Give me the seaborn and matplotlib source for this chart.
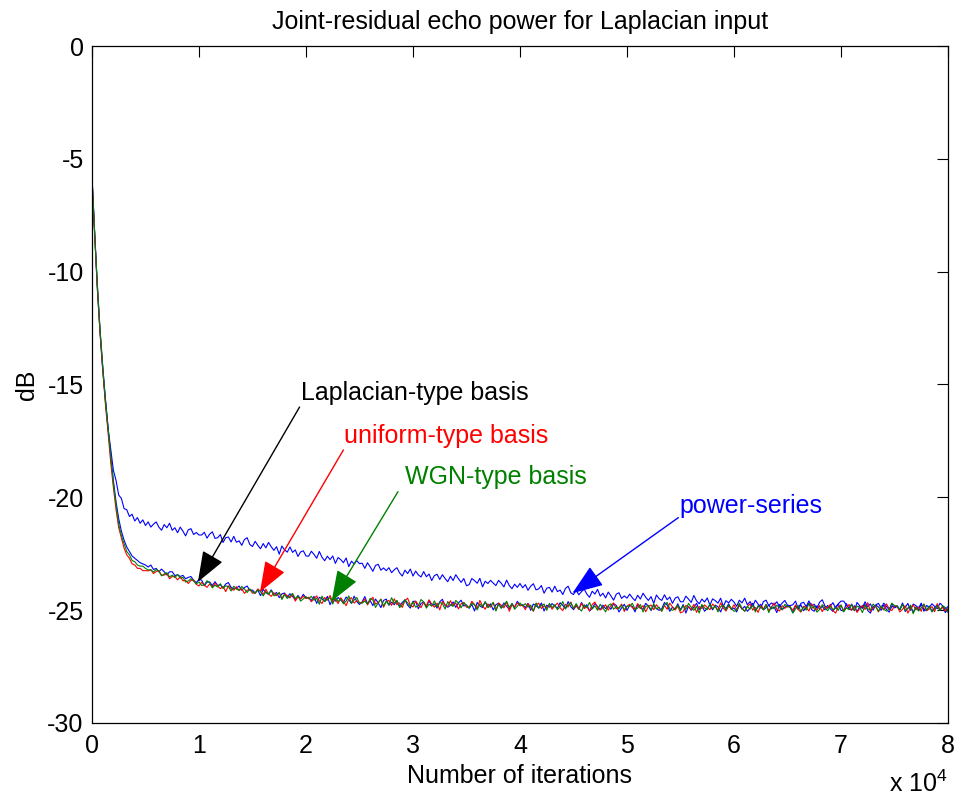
import numpy as np
import pandas as pd
import matplotlib
matplotlib.use("Agg")
import matplotlib.pyplot as plt
import seaborn as sns

# ---------------- data (dB values every 250 iterations, 0 .. 80000) ----------------
step = 250
power_series = [
    -5.80, -8.25, -10.75, -12.65, -14.35, -15.65, -16.95, -17.85, -18.80, -19.25, -19.90, -20.05, -20.50, -20.55, -20.85, -20.75, -21.05, -20.90, -21.15, -21.00, -21.25,
    -21.09, -21.32, -21.19, -21.09, -21.32, -21.46, -21.21, -21.35, -21.15, -21.46, -21.35, -21.57, -21.32, -21.50, -21.71, -21.44, -21.39, -21.65, -21.56, -21.67,
    -21.67, -21.55, -21.81, -21.63, -21.53, -21.82, -21.79, -21.65, -22.00, -21.79, -21.76, -21.98, -21.73, -21.99, -21.93, -22.13, -21.87, -21.79, -22.09, -22.18,
    -21.95, -22.13, -22.28, -22.05, -22.24, -22.00, -22.19, -22.35, -22.19, -22.52, -22.16, -22.33, -22.43, -22.20, -22.44, -22.33, -22.62, -22.42, -22.37, -22.60,
    -22.61, -22.39, -22.53, -22.70, -22.40, -22.66, -22.81, -22.61, -22.76, -22.60, -22.93, -22.67, -22.76, -22.90, -22.69, -23.07, -22.83, -22.95, -22.81, -22.94,
    -22.92, -23.15, -22.90, -23.08, -23.28, -23.02, -22.97, -23.23, -23.13, -23.25, -23.12, -23.34, -23.21, -23.12, -23.35, -23.49, -23.23, -23.38, -23.18, -23.49,
    -23.27, -23.44, -23.53, -23.29, -23.52, -23.40, -23.69, -23.47, -23.41, -23.64, -23.43, -23.60, -23.74, -23.50, -23.69, -23.43, -23.61, -23.77, -23.60, -23.92,
    -23.87, -23.60, -23.69, -23.81, -23.59, -23.97, -23.72, -23.82, -23.68, -23.80, -23.91, -23.68, -23.81, -23.97, -23.67, -23.91, -24.05, -23.85, -23.99, -23.82,
    -24.01, -23.87, -24.12, -23.94, -23.83, -24.10, -24.06, -23.91, -24.25, -24.03, -23.99, -24.20, -23.94, -24.18, -24.11, -24.31, -24.04, -23.94, -24.23, -24.31,
    -24.11, -24.32, -24.18, -24.07, -24.29, -24.43, -24.16, -24.29, -24.08, -24.38, -24.25, -24.46, -24.20, -24.37, -24.56, -24.29, -24.23, -24.48, -24.37, -24.47,
    -24.29, -24.45, -24.58, -24.34, -24.51, -24.25, -24.43, -24.57, -24.40, -24.70, -24.33, -24.49, -24.57, -24.32, -24.54, -24.42, -24.70, -24.47, -24.41, -24.63,
    -24.63, -24.38, -24.51, -24.66, -24.35, -24.59, -24.72, -24.51, -24.64, -24.46, -24.78, -24.50, -24.58, -24.69, -24.47, -24.84, -24.58, -24.68, -24.52, -24.64,
    -24.83, -24.56, -24.68, -24.47, -24.76, -24.62, -24.83, -24.56, -24.73, -24.91, -24.62, -24.56, -24.80, -24.68, -24.78, -24.63, -24.83, -24.69, -24.57, -24.78,
    -24.80, -24.76, -24.60, -24.93, -24.70, -24.65, -24.85, -24.59, -24.82, -24.74, -24.92, -24.65, -24.54, -24.82, -24.90, -24.82, -24.67, -24.92, -24.72, -24.60,
    -24.60, -24.77, -24.91, -24.73, -25.03, -24.66, -24.81, -24.89, -24.63, -24.85, -24.72, -25.00, -24.77, -24.70, -24.91, -24.69, -24.84, -24.97, -24.72, -24.90,
    -24.84, -24.97, -24.75, -24.88, -24.70, -25.01, -24.73, -24.80, -24.91, -24.69, -25.05, -24.79, -24.88, -24.72, -24.83, -24.94, -24.69, -24.81, -24.96, -24.84,
]
laplacian_basis = [
    -5.80, -8.25, -10.55, -12.55, -14.15, -15.60, -16.90, -18.15, -19.25, -20.20, -20.95, -21.50, -21.90, -22.20, -22.40, -22.60, -22.70, -22.80, -22.90, -22.95, -23.00,
    -23.09, -23.00, -23.20, -23.15, -23.30, -23.18, -23.30, -23.44, -23.30, -23.30, -23.47, -23.43, -23.51, -23.46, -23.61, -23.55, -23.51, -23.68, -23.78, -23.64,
    -23.67, -23.92, -23.76, -23.75, -23.91, -23.74, -23.91, -23.87, -24.02, -23.84, -23.78, -23.99, -24.06, -24.03, -23.93, -24.12, -24.00, -23.93, -24.13, -24.11,
    -24.24, -24.11, -24.36, -24.08, -24.22, -24.30, -24.10, -24.30, -24.22, -24.45, -24.28, -24.24, -24.43, -24.27, -24.40, -24.53, -24.35, -24.50, -24.30, -24.45,
    -24.44, -24.57, -24.39, -24.70, -24.43, -24.50, -24.62, -24.39, -24.76, -24.50, -24.60, -24.44, -24.56, -24.66, -24.42, -24.54, -24.70, -24.38, -24.62, -24.75,
    -24.63, -24.40, -24.72, -24.58, -24.80, -24.51, -24.68, -24.89, -24.57, -24.51, -24.78, -24.65, -24.76, -24.59, -24.82, -24.66, -24.54, -24.78, -24.91, -24.61,
    -24.61, -24.94, -24.70, -24.65, -24.85, -24.58, -24.81, -24.73, -24.91, -24.63, -24.52, -24.80, -24.87, -24.79, -24.64, -24.88, -24.68, -24.56, -24.82, -24.77,
    -24.92, -24.74, -25.04, -24.66, -24.81, -24.89, -24.63, -24.85, -24.72, -24.99, -24.76, -24.69, -24.90, -24.68, -24.83, -24.96, -24.71, -24.88, -24.61, -24.78,
    -24.76, -24.89, -24.70, -25.01, -24.73, -24.80, -24.91, -24.68, -25.04, -24.78, -24.87, -24.71, -24.82, -24.92, -24.67, -24.79, -24.94, -24.62, -24.85, -24.98,
    -24.81, -24.95, -24.66, -24.88, -24.76, -25.04, -24.92, -24.71, -24.83, -24.98, -24.78, -24.93, -24.84, -24.96, -24.72, -24.79, -25.08, -24.90, -24.74, -25.01,
    -24.79, -24.84, -25.08, -24.75, -24.91, -24.96, -24.70, -24.82, -25.02, -24.78, -24.93, -25.01, -24.94, -24.66, -24.77, -25.05, -24.87, -24.95, -24.72, -24.99,
    -24.75, -25.13, -24.83, -25.01, -24.87, -24.70, -24.97, -24.80, -25.05, -24.92, -24.77, -24.99, -24.78, -24.85, -25.08, -24.81, -24.94, -24.72, -24.98, -24.90,
    -25.08, -24.77, -24.96, -24.83, -25.05, -24.92, -24.69, -25.01, -24.86, -24.74, -24.99, -24.89, -24.78, -24.94, -24.85, -25.11, -24.75, -24.98, -24.87, -24.80,
    -24.89, -25.11, -24.82, -24.96, -24.76, -25.03, -24.87, -24.69, -24.98, -25.05, -24.81, -24.93, -24.84, -24.99, -24.79, -24.94, -25.06, -24.85, -24.73, -25.01,
    -25.04, -24.71, -24.95, -25.00, -24.80, -25.07, -24.84, -24.92, -24.74, -25.02, -25.13, -24.85, -24.78, -24.86, -25.01, -24.77, -24.97, -25.09, -24.83, -24.88,
    -24.80, -24.98, -24.68, -25.06, -24.91, -24.83, -25.09, -24.87, -25.00, -24.73, -24.96, -25.03, -24.82, -25.04, -24.89, -24.76, -25.01, -24.84, -25.11, -24.94,
]
uniform_basis = [
    -5.80, -8.35, -10.70, -12.70, -14.30, -15.85, -17.10, -18.45, -19.55, -20.55, -21.35, -21.80, -22.25, -22.55, -22.70, -22.95, -23.00, -23.15, -23.15, -23.25, -23.25,
    -23.26, -23.21, -23.38, -23.29, -23.25, -23.45, -23.45, -23.38, -23.61, -23.51, -23.51, -23.66, -23.52, -23.70, -23.68, -23.82, -23.68, -23.66, -23.86, -23.93,
    -23.77, -23.89, -23.99, -23.84, -23.98, -23.81, -23.94, -24.05, -23.95, -24.18, -23.92, -24.05, -24.12, -23.96, -24.13, -24.05, -24.26, -24.12, -24.08, -24.25,
    -24.24, -24.06, -24.17, -24.31, -24.07, -24.28, -24.39, -24.23, -24.36, -24.23, -24.48, -24.28, -24.36, -24.46, -24.29, -24.60, -24.41, -24.50, -24.38, -24.49,
    -24.43, -24.63, -24.49, -24.37, -24.59, -24.71, -24.44, -24.56, -24.35, -24.64, -24.51, -24.71, -24.45, -24.61, -24.80, -24.51, -24.45, -24.69, -24.58, -24.67,
    -24.67, -24.51, -24.77, -24.56, -24.43, -24.73, -24.67, -24.51, -24.87, -24.62, -24.57, -24.79, -24.50, -24.76, -24.68, -24.88, -24.58, -24.47, -24.78, -24.86,
    -24.60, -24.76, -24.89, -24.64, -24.82, -24.54, -24.73, -24.87, -24.69, -24.99, -24.61, -24.76, -24.84, -24.58, -24.81, -24.68, -24.95, -24.72, -24.66, -24.87,
    -24.88, -24.61, -24.75, -24.92, -24.57, -24.81, -24.96, -24.72, -24.87, -24.66, -25.00, -24.69, -24.78, -24.90, -24.64, -25.05, -24.76, -24.85, -24.68, -24.81,
    -24.78, -24.98, -24.71, -24.87, -25.05, -24.76, -24.69, -24.93, -24.81, -24.90, -24.75, -24.96, -24.81, -24.69, -24.90, -25.02, -24.74, -24.86, -24.64, -24.94,
    -24.77, -24.97, -24.70, -24.93, -24.85, -25.03, -24.75, -24.64, -24.92, -24.99, -24.91, -24.76, -25.00, -24.80, -24.68, -24.94, -24.89, -24.73, -25.06, -24.82,
    -24.74, -24.89, -24.97, -24.71, -24.93, -24.80, -25.07, -24.84, -24.77, -24.98, -24.76, -24.91, -25.04, -24.79, -24.96, -24.69, -24.86, -25.00, -24.82, -25.12,
    -25.07, -24.79, -24.86, -24.97, -24.74, -25.10, -24.84, -24.93, -24.77, -24.88, -24.98, -24.73, -24.85, -25.00, -24.68, -24.91, -25.04, -24.82, -24.95, -24.76,
    -24.98, -24.78, -24.93, -25.05, -24.84, -24.72, -25.00, -24.88, -25.10, -24.81, -24.95, -24.75, -25.02, -24.86, -24.68, -24.97, -25.04, -24.80, -24.92, -24.83,
    -24.86, -25.01, -24.77, -24.97, -25.09, -24.83, -24.88, -25.04, -24.71, -24.95, -25.00, -24.80, -25.07, -24.84, -24.92, -24.74, -25.02, -25.13, -24.85, -24.78,
    -25.03, -24.88, -24.75, -25.00, -24.83, -25.10, -24.93, -24.79, -24.97, -24.67, -25.05, -24.90, -24.82, -25.08, -24.86, -24.99, -24.72, -24.95, -25.02, -24.81,
    -24.83, -25.08, -24.96, -24.81, -25.13, -24.90, -24.77, -24.99, -24.86, -25.05, -24.74, -25.02, -24.95, -24.84, -25.07, -24.71, -24.97, -24.88, -25.04, -24.93,
]
wgn_basis = [
    -5.80, -8.30, -10.60, -12.55, -14.20, -15.70, -16.95, -18.25, -19.40, -20.35, -21.20, -21.70, -22.05, -22.40, -22.55, -22.80, -22.85, -23.00, -23.05, -23.05, -23.15,
    -23.22, -23.21, -23.31, -23.20, -23.27, -23.48, -23.40, -23.34, -23.53, -23.45, -23.56, -23.42, -23.58, -23.55, -23.75, -23.71, -23.61, -23.72, -23.84, -23.75,
    -23.91, -23.88, -23.70, -23.79, -24.01, -23.90, -23.97, -23.83, -24.04, -23.92, -23.96, -24.15, -23.94, -24.07, -24.12, -23.95, -24.06, -24.22, -24.06, -24.19,
    -24.25, -24.10, -24.17, -24.37, -24.18, -24.30, -24.13, -24.36, -24.32, -24.22, -24.53, -24.31, -24.48, -24.38, -24.26, -24.49, -24.38, -24.60, -24.50, -24.40,
    -24.50, -24.39, -24.56, -24.47, -24.74, -24.38, -24.62, -24.51, -24.45, -24.73, -24.43, -24.62, -24.50, -24.72, -24.60, -24.37, -24.70, -24.55, -24.44, -24.69,
    -24.69, -24.60, -24.73, -24.48, -24.55, -24.88, -24.68, -24.52, -24.82, -24.60, -24.77, -24.45, -24.70, -24.57, -24.89, -24.76, -24.54, -24.68, -24.84, -24.63,
    -24.87, -24.81, -24.53, -24.64, -24.91, -24.74, -24.82, -24.59, -24.86, -24.66, -24.71, -24.95, -24.62, -24.78, -24.83, -24.57, -24.69, -24.90, -24.66, -24.80,
    -24.90, -24.69, -24.76, -24.99, -24.72, -24.85, -24.63, -24.89, -24.81, -24.66, -25.04, -24.74, -24.92, -24.78, -24.61, -24.88, -24.71, -24.96, -24.83, -24.68,
    -24.82, -24.71, -24.87, -24.78, -25.04, -24.68, -24.91, -24.80, -24.73, -25.01, -24.70, -24.89, -24.76, -24.98, -24.85, -24.62, -24.94, -24.79, -24.67, -24.92,
    -24.71, -24.92, -25.04, -24.76, -24.88, -24.66, -24.95, -24.81, -25.01, -24.74, -24.90, -25.08, -24.79, -24.72, -24.96, -24.84, -24.93, -24.78, -24.98, -24.83,
    -24.82, -24.70, -24.96, -24.91, -24.75, -25.08, -24.84, -24.79, -24.99, -24.72, -24.95, -24.87, -25.05, -24.77, -24.66, -24.94, -25.01, -24.93, -24.78, -25.02,
    -24.80, -24.97, -24.70, -24.87, -25.01, -24.83, -25.13, -24.75, -24.90, -24.98, -24.72, -24.94, -24.81, -25.08, -24.85, -24.78, -24.99, -24.77, -24.92, -25.05,
    -25.01, -24.69, -24.92, -25.05, -24.83, -24.96, -24.77, -25.08, -24.80, -24.87, -24.98, -24.75, -25.11, -24.85, -24.94, -24.78, -24.89, -24.99, -24.74, -24.86,
    -24.84, -25.13, -24.95, -24.79, -25.06, -24.86, -25.00, -24.71, -24.93, -24.81, -25.09, -24.97, -24.76, -24.88, -25.03, -24.83, -24.98, -24.89, -25.01, -24.77,
    -25.08, -24.90, -24.98, -24.75, -25.02, -24.82, -24.87, -25.11, -24.78, -24.94, -24.99, -24.73, -24.85, -25.05, -24.81, -24.96, -25.04, -24.97, -24.69, -24.80,
    -24.84, -24.97, -24.75, -25.01, -24.93, -24.78, -25.16, -24.86, -25.04, -24.90, -24.73, -25.00, -24.83, -25.08, -24.95, -24.80, -25.02, -24.81, -24.88, -25.11,
]

series_names = ["power-series", "Laplacian-type basis", "uniform-type basis", "WGN-type basis"]
series_values = [power_series, laplacian_basis, uniform_basis, wgn_basis]
line_colors = ["#0000FF", "#0000FF", "#FF0000", "#008000"]
label_colors = ["#0000FF", "#000000", "#FF0000", "#008000"]

# annotation anchors (data units: x in 1e4 iterations, y in dB)
label_pos = [(5.49, -20.4), (1.95, -15.37), (2.36, -17.3), (2.93, -19.1)]
arrow_tail = [(5.48, -20.9), (1.94, -16.0), (2.35, -17.9), (2.86, -19.75)]
arrow_tip = [(4.49, -24.25), (0.99, -23.75), (1.57, -24.2), (2.24, -24.6)]

frames = []
for name, vals in zip(series_names, series_values):
    it = np.arange(len(vals)) * step
    frames.append(pd.DataFrame({"iter": it / 1e4, "dB": vals, "series": name}))
df = pd.concat(frames, ignore_index=True)

# ---------------- style ----------------
sns.set_style("white")
plt.rcParams["font.family"] = ["Liberation Sans", "DejaVu Sans"]
plt.rcParams["mathtext.fontset"] = "custom"
plt.rcParams["mathtext.rm"] = "Liberation Sans"
plt.rcParams["text.color"] = "black"
plt.rcParams["axes.labelcolor"] = "black"

fig = plt.figure(figsize=(9.6, 8.0), dpi=100)
ax = fig.add_axes([0.0958, 0.0963, 0.8917, 0.8462])

sns.lineplot(data=df, x="iter", y="dB", hue="series", hue_order=series_names,
             palette=line_colors, estimator=None, sort=False, legend=False,
             linewidth=0.8, ax=ax)

ax.set_xlim(0, 8)
ax.set_ylim(-30, 0)
ax.set_xticks(range(0, 9))
ax.set_yticks(range(-30, 1, 5))
ax.set_yticklabels([str(v) for v in range(-30, 1, 5)])
ax.tick_params(direction="in", length=8, width=0.8, top=True, right=True,
               labelsize=18, colors="black", pad=6)
ax.tick_params(axis="x", pad=8)
for sp in ax.spines.values():
    sp.set_color("black")
    sp.set_linewidth(0.9)

ax.set_xlabel("Number of iterations", fontsize=18, labelpad=4, color="black")
ax.set_ylabel("dB", fontsize=18, labelpad=6, color="black")
ax.set_title("Joint-residual echo power for Laplacian input", fontsize=18, pad=12, color="black")
fig.text(0.987, 0.004, r"x 10$^4$", ha="right", va="bottom", fontsize=18, color="black")

for name, lc, lp, tail, tip in zip(series_names, label_colors, label_pos, arrow_tail, arrow_tip):
    ax.annotate("", xy=tip, xytext=tail,
                arrowprops=dict(arrowstyle="-|>,head_length=1.2,head_width=0.45",
                                mutation_scale=16, color=lc, lw=1.0,
                                shrinkA=0, shrinkB=0))
    ax.text(lp[0], lp[1], name, color=lc, fontsize=18, ha="left", va="center")

fig.savefig("out.png", dpi=100, facecolor="white")
